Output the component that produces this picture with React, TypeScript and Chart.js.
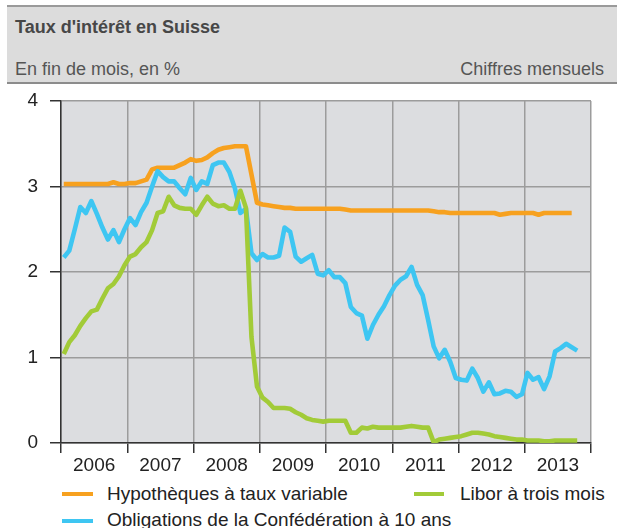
import { useEffect, useRef } from 'react';
import { Chart, registerables } from 'chart.js';

Chart.register(...registerables);

// Month index 0 = January 2006, monthly end-of-month values
const YEARS = ['2006', '2007', '2008', '2009', '2010', '2011', '2012', '2013'];

const hypotheques = [
  3.03, 3.03, 3.03, 3.03, 3.03, 3.03, 3.03, 3.03, 3.03, 3.05,
  3.03, 3.03, 3.04, 3.04, 3.06, 3.08, 3.2, 3.22, 3.22, 3.22,
  3.22, 3.25, 3.28, 3.32, 3.3, 3.31, 3.34, 3.39, 3.43, 3.45,
  3.46, 3.47, 3.47, 3.47, 3.14, 2.81, 2.79, 2.78, 2.77, 2.76,
  2.75, 2.75, 2.74, 2.74, 2.74, 2.74, 2.74, 2.74, 2.74, 2.74,
  2.74, 2.73, 2.72, 2.72, 2.72, 2.72, 2.72, 2.72, 2.72, 2.72,
  2.72, 2.72, 2.72, 2.72, 2.72, 2.72, 2.72, 2.71, 2.7, 2.7,
  2.69, 2.69, 2.69, 2.69, 2.69, 2.69, 2.69, 2.69, 2.69, 2.67,
  2.68, 2.69, 2.69, 2.69, 2.69, 2.69, 2.67, 2.69, 2.69, 2.69,
  2.69, 2.69, 2.69,
];

const obligations = [
  2.17, 2.25, 2.5, 2.76, 2.69, 2.83, 2.68, 2.52, 2.38, 2.49,
  2.35, 2.5, 2.63, 2.55, 2.7, 2.81, 3.0, 3.18, 3.11, 3.06,
  3.06, 2.98, 2.91, 3.1, 2.96, 3.06, 3.03, 3.25, 3.28, 3.28,
  3.17, 2.98, 2.69, 2.74, 2.22, 2.14, 2.21, 2.17, 2.17, 2.19,
  2.52, 2.47, 2.18, 2.12, 2.16, 2.2, 1.98, 1.96, 2.02, 1.94,
  1.94, 1.87, 1.59, 1.52, 1.49, 1.22, 1.38, 1.5, 1.6, 1.73,
  1.84, 1.91, 1.95, 2.06, 1.85, 1.73, 1.44, 1.13, 0.99, 1.09,
  0.95, 0.76, 0.74, 0.73, 0.87, 0.76, 0.6, 0.71, 0.57, 0.58,
  0.61, 0.6, 0.54, 0.57, 0.82, 0.74, 0.77, 0.63, 0.78, 1.07,
  1.11, 1.16, 1.12, 1.08,
];

const libor = [
  1.04, 1.18, 1.26, 1.37, 1.46, 1.54, 1.56, 1.69, 1.81, 1.86,
  1.95, 2.08, 2.18, 2.21, 2.29, 2.35, 2.49, 2.69, 2.71, 2.88,
  2.78, 2.75, 2.74, 2.74, 2.67, 2.78, 2.88, 2.8, 2.77, 2.78,
  2.74, 2.74, 2.95, 2.75, 1.24, 0.66, 0.53, 0.48, 0.41, 0.41,
  0.41, 0.4, 0.36, 0.33, 0.29, 0.27, 0.26, 0.25, 0.26, 0.26,
  0.26, 0.26, 0.12, 0.12, 0.18, 0.17, 0.19, 0.18, 0.18, 0.18,
  0.18, 0.18, 0.19, 0.2, 0.19, 0.18, 0.18, 0.01, 0.04, 0.05,
  0.06, 0.07, 0.08, 0.1, 0.12, 0.12, 0.11, 0.1, 0.08, 0.07,
  0.06, 0.05, 0.04, 0.04, 0.03, 0.03, 0.03, 0.02, 0.02, 0.03,
  0.03, 0.03, 0.03, 0.03,
];

const LABELS = [
  'Hypothèques à taux variable',
  'Libor à trois mois',
  'Obligations de la Confédération à 10 ans',
];

const ORANGE = '#f7a11f';
const BLUE = '#3ec6f2';
const GREEN = '#a2cb38';
const GRID = '#9c9c9c';
const AXIS = '#333333';
const FONT = "'Liberation Sans', Arial, Helvetica, sans-serif";

const bgPlugin = {
  id: 'plotBg',
  beforeDraw(chart: any) {
    const { ctx, chartArea } = chart;
    if (!chartArea) return;
    ctx.save();
    ctx.fillStyle = '#dcdde0';
    ctx.fillRect(chartArea.left, chartArea.top, chartArea.right - chartArea.left, chartArea.bottom - chartArea.top);
    ctx.restore();
  },
};

export default function App() {
  const ref = useRef<HTMLCanvasElement>(null);

  useEffect(() => {
    const toPts = (arr: number[]) => arr.map((v, i) => ({ x: i + 0.5, y: v }));
    const line = (label: string, arr: number[], color: string) => ({
      label,
      data: toPts(arr),
      borderColor: color,
      backgroundColor: color,
      borderWidth: 4.6,
      pointRadius: 0,
      tension: 0,
      borderJoinStyle: 'round' as const,
      fill: false,
    });
    const isYear = (c: any) => c && c.tick && c.tick.value % 12 === 0;
    const chart = new Chart(ref.current as HTMLCanvasElement, {
      type: 'line',
      data: {
        datasets: [
          line(LABELS[1], libor, GREEN),
          line(LABELS[2], obligations, BLUE),
          line(LABELS[0], hypotheques, ORANGE),
        ],
      },
      options: {
        responsive: false,
        animation: false,
        devicePixelRatio: 1,
        layout: { padding: { left: 0, right: 26, top: 13, bottom: 7 } },
        plugins: { legend: { display: false }, tooltip: { enabled: false } },
        scales: {
          x: {
            type: 'linear',
            min: 0,
            max: YEARS.length * 12,
            afterBuildTicks: (s: any) => {
              const t = [];
              for (let k = 0; k <= YEARS.length * 2; k++) t.push({ value: k * 6 });
              s.ticks = t;
            },
            afterFit: (s: any) => {
              s.height = 30;
              s.paddingLeft = 0;
              s.paddingRight = 0;
            },
            ticks: {
              autoSkip: false,
              maxRotation: 0,
              padding: 1,
              color: '#222',
              font: { family: FONT, size: 19 },
              callback: (v: any) => (Number(v) % 12 === 6 ? YEARS[(Number(v) - 6) / 12] : ''),
            },
            grid: {
              color: (c: any) => (isYear(c) ? GRID : 'rgba(0,0,0,0)'),
              tickColor: (c: any) => (isYear(c) ? AXIS : 'rgba(0,0,0,0)'),
              lineWidth: 1.5,
              tickLength: 10,
            },
            border: { color: AXIS, width: 1.5 },
          },
          y: {
            min: 0,
            max: 4,
            afterFit: (s: any) => {
              s.width = 61;
              s.paddingTop = 0;
              s.paddingBottom = 0;
            },
            ticks: {
              stepSize: 1,
              padding: 12,
              color: '#222',
              font: { family: FONT, size: 19 },
            },
            grid: { color: GRID, tickColor: AXIS, lineWidth: 1.5, tickLength: 11 },
            border: { color: AXIS, width: 1.5 },
          },
        },
      },
      plugins: [bgPlugin],
    } as any);
    return () => chart.destroy();
  }, []);

  const txt = (extra: any) => ({
    position: 'absolute' as const,
    fontFamily: FONT,
    whiteSpace: 'nowrap' as const,
    ...extra,
  });

  return (
    <div style={{ position: 'absolute', left: 0, top: 0, width: 617, height: 528, background: '#fff', overflow: 'hidden' }}>
      <div
        style={{
          position: 'absolute',
          left: 7,
          top: 5,
          width: 610,
          height: 75,
          background: '#dcdcdc',
          borderTop: '2px solid #9a9a9a',
          borderBottom: '2px solid #8c8c8c',
        }}
      />
      <div style={txt({ left: 15, top: 17.5, fontSize: 18, lineHeight: '18px', fontWeight: 'bold', color: '#474747' })}>
        Taux d'intérêt en Suisse
      </div>
      <div style={txt({ left: 15, top: 59.5, fontSize: 18, lineHeight: '18px', color: '#555' })}>
        En fin de mois, en %
      </div>
      <div style={txt({ right: 13, top: 59.5, fontSize: 18, lineHeight: '18px', color: '#555' })}>
        Chiffres mensuels
      </div>
      <canvas
        ref={ref}
        width={617}
        height={392}
        style={{ position: 'absolute', left: 0, top: 88, width: 617, height: 392, display: 'block' }}
      />
      <div style={{ position: 'absolute', left: 62, top: 492, width: 31, height: 4, background: ORANGE }} />
      <div style={txt({ left: 107, top: 483.5, fontSize: 19, lineHeight: '19px', color: '#222' })}>{LABELS[0]}</div>
      <div style={{ position: 'absolute', left: 414, top: 492, width: 30, height: 4, background: GREEN }} />
      <div style={txt({ left: 460, top: 483.5, fontSize: 19, lineHeight: '19px', color: '#222' })}>{LABELS[1]}</div>
      <div style={{ position: 'absolute', left: 62, top: 519, width: 31, height: 4, background: BLUE }} />
      <div style={txt({ left: 107, top: 510, fontSize: 19, lineHeight: '19px', color: '#222' })}>{LABELS[2]}</div>
    </div>
  );
}
